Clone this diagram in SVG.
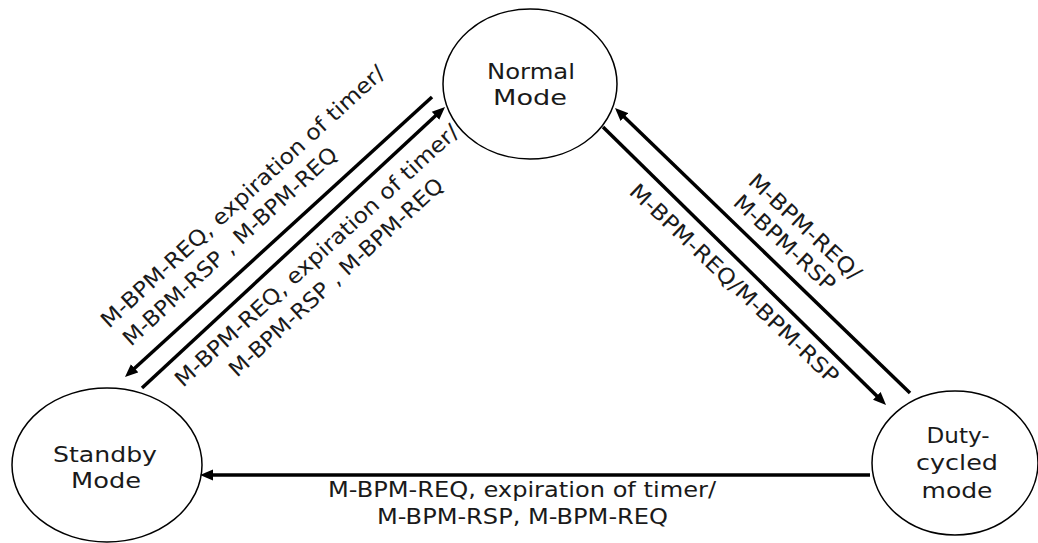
<svg xmlns="http://www.w3.org/2000/svg" width="1038" height="543" viewBox="0 0 1038 543">
<style>
.node{fill:#fff;stroke:#000;stroke-width:1.5}
.t{font-family:"DejaVu Sans","Liberation Sans",sans-serif;font-size:22px;fill:#1a1a1a}
.nt{text-anchor:middle}
.lbl{font-family:"DejaVu Sans","Liberation Sans",sans-serif;font-size:21.5px;fill:#1a1a1a}
.edge{fill:none;stroke:#000;stroke-width:3.5;marker-end:url(#ah)}
</style>
<defs>
<marker id="ah" markerUnits="userSpaceOnUse" markerWidth="14" markerHeight="12" viewBox="0 0 14 12" refX="3" refY="6" orient="auto">
<path d="M0,0.5 L13,6 L0,11.5 z" fill="#000"/>
</marker>
</defs>
<g id="normal">
<ellipse class="node" cx="530" cy="84" rx="87" ry="75"/>
<text class="t nt" x="531" y="79" textLength="88" lengthAdjust="spacingAndGlyphs">Normal</text>
<text class="t nt" x="530" y="105" textLength="74" lengthAdjust="spacingAndGlyphs">Mode</text>
</g>
<g id="standby">
<ellipse class="node" cx="107" cy="465" rx="95" ry="77"/>
<text class="t nt" x="105" y="462" textLength="104" lengthAdjust="spacingAndGlyphs">Standby</text>
<text class="t nt" x="106" y="488" textLength="70" lengthAdjust="spacingAndGlyphs">Mode</text>
</g>
<g id="duty">
<ellipse class="node" cx="955" cy="463" rx="83" ry="72"/>
<text class="t nt" x="958" y="443" textLength="63" lengthAdjust="spacingAndGlyphs">Duty-</text>
<text class="t nt" x="957" y="470" textLength="82" lengthAdjust="spacingAndGlyphs">cycled</text>
<text class="t nt" x="957" y="498" textLength="71" lengthAdjust="spacingAndGlyphs">mode</text>
</g>
<g id="connectors">
<path class="edge" d="M432,97 L132.4,370.3"/>
<path class="edge" d="M142,388 L437.7,113.8"/>
<path class="edge" d="M910,393 L622.2,114.9"/>
<path class="edge" d="M603,127 L878.9,398"/>
<path class="edge" d="M870,475 L210,475"/>
</g>
<g id="labels">
<text class="lbl" transform="translate(109,329) rotate(-42.5)" textLength="376" lengthAdjust="spacingAndGlyphs">M-BPM-REQ, expiration of timer/</text>
<text class="lbl" transform="translate(131,347) rotate(-42.5)" textLength="282" lengthAdjust="spacingAndGlyphs">M-BPM-RSP , M-BPM-REQ</text>
<text class="lbl" transform="translate(183,388) rotate(-42.5)" textLength="376" lengthAdjust="spacingAndGlyphs">M-BPM-REQ, expiration of timer/</text>
<text class="lbl" transform="translate(237,378) rotate(-42.5)" textLength="282" lengthAdjust="spacingAndGlyphs">M-BPM-RSP , M-BPM-REQ</text>
<text class="lbl" transform="translate(747,183) rotate(43)" textLength="145" lengthAdjust="spacingAndGlyphs">M-BPM-REQ/</text>
<text class="lbl" transform="translate(732,204) rotate(43)" textLength="130" lengthAdjust="spacingAndGlyphs">M-BPM-RSP</text>
<text class="lbl" transform="translate(628,193) rotate(43.5)" textLength="279" lengthAdjust="spacingAndGlyphs">M-BPM-REQ/M-BPM-RSP</text>
<text class="t" x="328" y="497" textLength="388" lengthAdjust="spacingAndGlyphs">M-BPM-REQ, expiration of timer/</text>
<text class="t" x="377" y="524" textLength="291" lengthAdjust="spacingAndGlyphs">M-BPM-RSP, M-BPM-REQ</text>
</g>
</svg>
